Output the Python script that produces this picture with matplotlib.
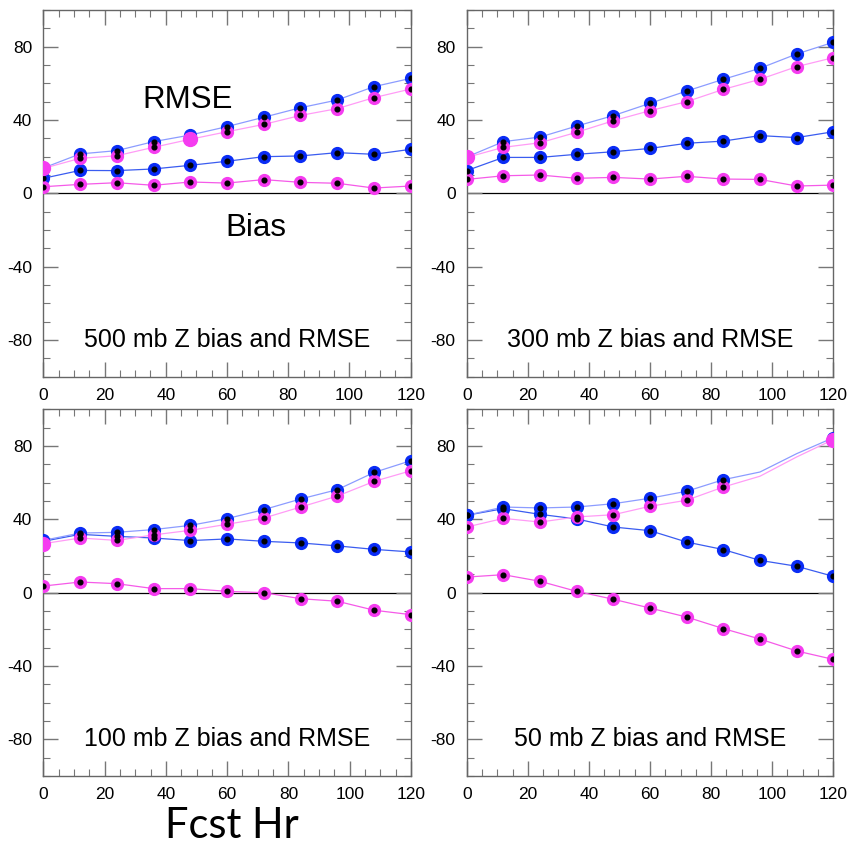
import matplotlib
matplotlib.use("Agg")
import matplotlib.pyplot as plt
from matplotlib.ticker import MultipleLocator

plt.rcParams['font.family'] = ['Liberation Sans', 'DejaVu Sans']
plt.rcParams['axes.unicode_minus'] = False

hours = [0, 12, 24, 36, 48, 60, 72, 84, 96, 108, 120]
titles = ["500 mb Z bias and RMSE", "300 mb Z bias and RMSE",
          "100 mb Z bias and RMSE", "50 mb Z bias and RMSE"]

# 500 mb
rmse_blue_500 = [13.8, 21.5, 23.3, 28.2, 31.8, 36.4, 41.5, 46.7, 50.9, 58.2, 62.7]
rmse_mag_500 = [13.6, 19.1, 20.5, 25.1, 29.5, 33.6, 37.6, 42.5, 46.2, 52.2, 56.9]
bias_blue_500 = [8.2, 12.5, 12.4, 13.3, 15.3, 17.5, 20.0, 20.4, 22.2, 21.3, 24.0]
bias_mag_500 = [3.6, 4.9, 5.8, 4.4, 6.2, 5.6, 7.5, 6.0, 5.5, 2.9, 4.0]
# 300 mb
rmse_blue_300 = [19.8, 28.2, 30.7, 36.7, 42.4, 49.1, 55.8, 62.2, 68.2, 76.0, 82.4]
rmse_mag_300 = [19.6, 25.1, 27.6, 33.3, 39.6, 45.1, 50.0, 56.7, 62.2, 69.1, 74.0]
bias_blue_300 = [12.4, 19.6, 19.6, 21.3, 22.7, 24.5, 27.3, 28.5, 31.5, 30.4, 33.6]
bias_mag_300 = [7.6, 9.6, 10.0, 8.2, 8.7, 7.8, 9.3, 7.8, 7.6, 4.0, 4.5]
# 100 mb
rmse_blue_100 = [28.5, 32.5, 32.9, 34.4, 36.7, 40.4, 45.3, 51.1, 56.2, 65.6, 72.0]
rmse_mag_100 = [26.7, 29.8, 28.5, 31.5, 34.0, 37.3, 40.7, 46.7, 52.7, 60.7, 66.5]
bias_blue_100 = [28.0, 31.8, 30.7, 29.8, 28.4, 29.3, 28.0, 27.1, 25.5, 23.6, 22.2]
bias_mag_100 = [3.6, 5.8, 4.9, 2.2, 2.2, 0.7, 0.0, -3.3, -4.7, -9.6, -12.0]
# 50 mb
rmse_blue_50 = [42.2, 46.7, 46.2, 46.7, 48.5, 51.5, 55.3, 61.6, 65.8, 75.8, 84.5]
rmse_mag_50 = [35.8, 40.5, 38.5, 41.3, 42.5, 47.1, 50.4, 57.6, 63.5, 74.0, 83.5]
bias_blue_50 = [42.2, 45.8, 42.7, 40.2, 35.8, 33.8, 27.6, 23.5, 17.6, 14.4, 8.9]
bias_mag_50 = [8.5, 9.8, 6.2, 0.7, -3.6, -8.4, -13.3, -19.6, -25.3, -31.8, -36.4]

panels = [
    (rmse_blue_500, rmse_mag_500, bias_blue_500, bias_mag_500),
    (rmse_blue_300, rmse_mag_300, bias_blue_300, bias_mag_300),
    (rmse_blue_100, rmse_mag_100, bias_blue_100, bias_mag_100),
    (rmse_blue_50, rmse_mag_50, bias_blue_50, bias_mag_50),
]
# points where the magenta RMSE marker is drawn plain (no black dot)
plain_mag_rmse = [[0, 48], [0], [0], [120]]
# hours with no RMSE marker drawn
missing_rmse = [[], [], [], [96, 108]]

BLUE = "#0a2cf5"
MAG = "#f53cf0"
BLUE_RMSE_LINE = "#8c9cff"
MAG_RMSE_LINE = "#ff9cf6"
BLUE_BIAS_LINE = "#3a5cf0"
MAG_BIAS_LINE = "#f55ae8"

fig = plt.figure(figsize=(8.5, 8.47), dpi=100)
W, H = 850, 847
boxes = [(43.3, 10, 367.4, 366.7), (466.7, 10, 366.6, 366.7),
         (43.3, 409.3, 367.7, 366.7), (466.7, 409.3, 366.6, 366.7)]


def draw_series(ax, xs, ys, line_color, marker_color, skip=(), plain=()):
    ax.plot(xs, ys, color=line_color, lw=0.9, zorder=2)
    px = [x for x in xs if x not in skip]
    py = [y for x, y in zip(xs, ys) if x not in skip]
    ax.plot(px, py, ls='none', marker='o', ms=8.5, mfc=marker_color,
            mec=marker_color, zorder=3)
    dx = [x for x in px if x not in plain]
    dy = [y for x, y in zip(px, py) if x not in plain]
    ax.plot(dx, dy, ls='none', marker='o', ms=3.4, mfc='black', mec='black', zorder=4)
    pl = [(x, y) for x, y in zip(px, py) if x in plain]
    if pl:
        ax.plot([p[0] for p in pl], [p[1] for p in pl], ls='none', marker='o',
                ms=10, mfc=marker_color, mec=marker_color, zorder=5)


for i, (l, b, w, h) in enumerate(boxes):
    ax = fig.add_axes([l / W, 1 - (b + h) / H, w / W, h / H])
    rb, rm, bb, bm = panels[i]
    ax.axhline(0, color='black', lw=0.9, zorder=1)
    draw_series(ax, hours, bb, BLUE_BIAS_LINE, BLUE)
    draw_series(ax, hours, bm, MAG_BIAS_LINE, MAG)
    draw_series(ax, hours, rb, BLUE_RMSE_LINE, BLUE, skip=missing_rmse[i])
    draw_series(ax, hours, rm, MAG_RMSE_LINE, MAG, skip=missing_rmse[i],
                plain=plain_mag_rmse[i])
    ax.set_xlim(0, 120)
    ax.set_ylim(-100, 100)
    ax.xaxis.set_major_locator(MultipleLocator(20))
    ax.xaxis.set_minor_locator(MultipleLocator(5))
    ax.yaxis.set_major_locator(MultipleLocator(40))
    ax.yaxis.set_minor_locator(MultipleLocator(10))
    ax.tick_params(which='both', direction='in', top=True, right=True,
                   color='#777777', labelsize=12.5, pad=8)
    ax.tick_params(which='major', length=11, width=1)
    ax.tick_params(which='minor', length=5, width=0.8)
    for s in ax.spines.values():
        s.set_color('#666666')
        s.set_linewidth(1)
    ax.text(60, -80, titles[i], ha='center', va='center', fontsize=18)
    if i == 0:
        ax.text(47, 51, "RMSE", ha='center', va='center', fontsize=22.5)
        ax.text(69.5, -19, "Bias", ha='center', va='center', fontsize=22.5)

fig.text(232 / W, 1 - 826 / H, "Fcst Hr", ha='center', va='center',
         fontsize=30, family=['Lato', 'DejaVu Sans'])

fig.savefig("out.png", dpi=100)
